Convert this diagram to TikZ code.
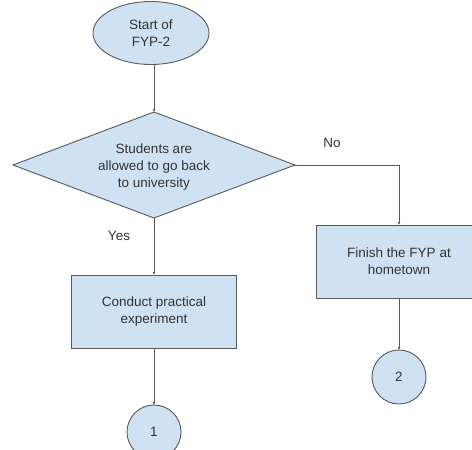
\documentclass[tikz,border=0pt]{standalone}
\usepackage{fontspec}
\setmainfont{Liberation Sans}
\usetikzlibrary{shapes.geometric,arrows.meta}
\definecolor{fillblue}{HTML}{CFE2F3}
\definecolor{edgegray}{HTML}{595959}
\definecolor{txtgray}{HTML}{333333}
\begin{document}
\begin{tikzpicture}[x=1pt,y=-1pt,
  every node/.style={font=\fontsize{13.5}{16.7}\selectfont, text=txtgray, align=center},
  shp/.style={draw=edgegray, fill=fillblue, line width=0.9pt, inner sep=0pt, outer sep=0pt},
  conn/.style={draw=edgegray, line width=0.9pt, -{Latex[length=3pt,width=3pt]}},
  lbl/.style={font=\fontsize{13.5}{16.7}\selectfont}]
\useasboundingbox (0,0) rectangle (472,450);
\node[shp, ellipse, minimum width=116pt, minimum height=63pt] (start) at (151,33) {Start of\\FYP-2};
\node[shp, diamond, minimum width=282pt, minimum height=106pt, aspect=2.66] (dec) at (154,165) {};
\node at (154,167) {Students are\\allowed to go back\\to university};
\node[shp, rectangle, minimum width=165pt, minimum height=73pt] (exp) at (154,311.5) {Conduct practical\\experiment};
\node[shp, rectangle, minimum width=165pt, minimum height=73pt] (home) at (399,261.5) {Finish the FYP at\\hometown};
\node[shp, circle, minimum size=54pt] (c1) at (154,432) {1};
\node[shp, circle, minimum size=54pt] (c2) at (399,377) {2};
\node[lbl] (no) at (332,143) {No};
\node[lbl] (yes) at (119,236) {Yes};
\draw[conn] (dec.north |- start.south) -- (dec.north);
\draw[conn] (dec.south) -- (exp.north);
\draw[conn] (dec.east) -| (home.north);
\draw[conn] (exp.south) -- (c1.north);
\draw[conn] (home.south) -- (c2.north);
\end{tikzpicture}
\end{document}
